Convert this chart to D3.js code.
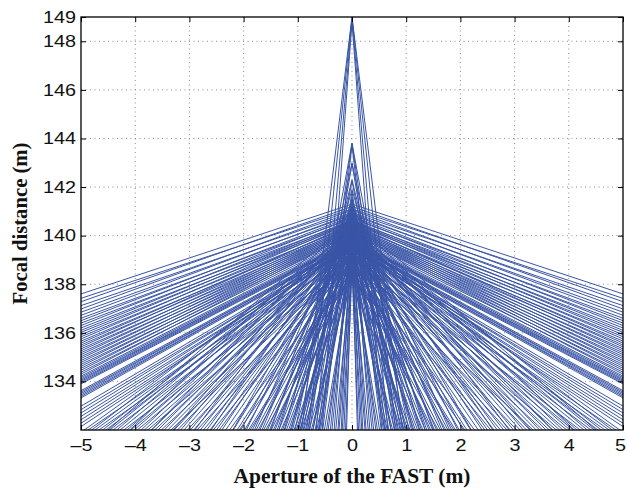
<!DOCTYPE html>
<html>
<head>
<meta charset="utf-8">
<script src="https://cdn.jsdelivr.net/npm/d3@7"></script>
<style>
  body { margin: 0; background: #fff; }
  svg { display: block; }
</style>
</head>
<body>
<svg id="chart" width="627" height="489"></svg>
<script>
// Axis ranges and tick labels
const xDomain = [-5, 5];
const yDomain = [132, 149];
const xTicks = [-5, -4, -3, -2, -1, 0, 1, 2, 3, 4, 5];
const yTicks = [134, 136, 138, 140, 142, 144, 146, 148, 149];

// Each reflected ray crosses the axis (aperture 0) at rayApex (m)
// and falls away on both sides with raySlope (m of height per m of aperture).
const rayApex = [
  // shallow rays reaching the plot edge
  141.30, 141.10, 141.20, 140.95, 141.05, 140.85, 140.90, 140.70, 140.80, 140.60,
  140.75, 140.55, 140.65, 140.50, 140.60, 140.40, 140.55, 140.35, 140.45, 140.30,
  140.50, 140.25, 140.40, 140.20, 140.35, 140.15, 140.30, 140.10, 140.25, 140.05,
  140.20, 140.00, 140.15, 139.95, 140.10, 139.90, 139.85, 139.80, 139.82, 139.78,
  139.75, 139.72, 139.70, 139.66, 139.68, 139.62, 139.64, 139.60, 139.58, 139.55,
  139.60, 139.52, 139.56, 139.50, 139.54,
  // rays reaching the floor of the plot
  139.90, 139.45, 140.20, 139.70, 139.30, 140.05, 139.60, 139.95, 139.40, 140.30,
  139.75, 139.20, 140.10, 139.55, 139.85, 139.35, 140.25, 139.65, 139.10, 140.00,
  139.50, 139.90, 139.25, 140.15, 139.70, 139.05, 139.95, 139.45, 140.35, 139.80,
  139.15, 140.05, 139.55, 139.00, 139.85, 139.35, 140.20, 139.65, 138.95, 139.90,
  139.40, 140.10,
  139.60, 138.90, 139.85, 139.30, 140.25, 139.70, 138.80, 139.95, 139.45, 140.40,
  139.20, 139.75, 138.75, 140.05, 139.50, 140.50, 139.10, 139.80, 138.70, 140.20,
  139.40, 140.60, 138.70, 139.90, 139.20, 140.30, 138.75, 139.60, 140.00, 139.00,
  140.70, 138.60, 141.00, 139.05, 140.80, 138.55, 140.35, 139.25, 140.90, 138.65,
  140.15, 139.35, 141.10, 138.85, 140.45, 139.05, 141.20, 138.60, 140.75, 139.50,
  141.60, 138.90, 140.40, 141.30, 139.80, 140.70, 140.55, 138.70, 140.45, 140.60,
  140.50, 140.55, 140.65, 140.70,
  138.60, 138.90, 139.30, 138.80, 139.60,
  // steep paraxial rays
  149.00, 149.00, 148.90, 148.80, 143.80, 143.80, 143.70, 143.00, 142.95, 142.30,
  142.25, 141.90, 141.80, 141.50, 141.40, 141.20, 141.00
];
const raySlope = [
  0.740, 0.736, 0.784, 0.766, 0.814, 0.800, 0.836, 0.820, 0.860, 0.840,
  0.890, 0.870, 0.910, 0.896, 0.936, 0.912, 0.960, 0.938, 0.974, 0.960,
  1.016, 0.982, 1.028, 1.004, 1.050, 1.026, 1.072, 1.048, 1.094, 1.070,
  1.116, 1.092, 1.138, 1.114, 1.160, 1.136, 1.138, 1.140, 1.154, 1.156,
  1.160, 1.164, 1.216, 1.220, 1.236, 1.236, 1.252, 1.256, 1.320, 1.342,
  1.380, 1.392, 1.428, 1.444, 1.480,
  1.599, 1.530, 1.708, 1.624, 1.563, 1.750, 1.674, 1.779, 1.678, 1.912,
  1.811, 1.710, 1.952, 1.850, 1.953, 1.856, 2.121, 1.997, 1.883, 2.162,
  2.060, 2.207, 2.060, 2.355, 2.265, 2.111, 2.424, 2.314, 2.642, 2.516,
  2.352, 2.701, 2.586, 2.448, 2.804, 2.682, 3.060, 2.920, 2.715, 3.160,
  3.020, 3.375,
  3.262, 3.053, 3.584, 3.443, 4.024, 3.889, 3.560, 4.321, 4.209, 4.941,
  4.417, 4.968, 4.530, 5.669, 5.556, 6.641, 5.868, 6.842, 6.262, 8.200,
  7.957, 10.000, 8.481, 10.972, 11.077, 14.310, 13.235, 17.273, 21.622, 23.333,
  4.462, 3.511, 5.000, 4.075, 5.301, 4.119, 5.493, 5.000, 6.449, 5.076,
  6.573, 6.282, 8.273, 6.650, 8.802, 7.921, 11.220, 8.800, 12.868, 12.295,
  17.778, 14.681, 21.000, 28.182, 30.000, 43.500, 3.886, 3.221, 3.250, 2.966,
  2.576, 2.311, 2.110, 1.933,
  55.000, 38.333, 48.667, 28.333, 76.000,
  18.280, 21.250, 25.606, 30.545, 12.041, 15.128, 18.871, 10.476, 13.036, 9.196,
  11.389, 7.920, 13.611, 7.037, 9.895, 6.133, 15.000
];

const W = 627, H = 489;
const margin = { top: 17, right: 4, bottom: 59, left: 81 };
const iw = W - margin.left - margin.right;
const ih = H - margin.top - margin.bottom;

const svg = d3.select("#chart");
const g = svg.append("g").attr("transform", `translate(${margin.left},${margin.top})`);

const x = d3.scaleLinear().domain(xDomain).range([0, iw]);
const y = d3.scaleLinear().domain(yDomain).range([ih, 0]);

svg.append("defs").append("clipPath").attr("id", "plot-clip")
  .append("rect").attr("width", iw).attr("height", ih);

// dotted grid
const grid = g.append("g").attr("class", "grid");
grid.selectAll("line.gx").data(xTicks.filter(d => d > xDomain[0] && d < xDomain[1]))
  .join("line").attr("class", "gx")
  .attr("x1", d => x(d)).attr("x2", d => x(d)).attr("y1", 0).attr("y2", ih);
grid.selectAll("line.gy").data(yTicks.filter(d => d > yDomain[0] && d < yDomain[1]))
  .join("line").attr("class", "gy")
  .attr("x1", 0).attr("x2", iw).attr("y1", d => y(d)).attr("y2", d => y(d));
grid.selectAll("line")
  .attr("stroke", "#8c8c8c").attr("stroke-width", 1).attr("stroke-dasharray", "1,3.5");

// rays: each drawn from the plot edge to its axis crossing and back out
const rays = rayApex.map((a, i) => [
  [xDomain[0], a + xDomain[0] * raySlope[i]],
  [0, a],
  [xDomain[1], a - xDomain[1] * raySlope[i]]
]);
const line = d3.line().x(d => x(d[0])).y(d => y(d[1]));
g.append("g").attr("clip-path", "url(#plot-clip)")
  .selectAll("path").data(rays).join("path")
  .attr("d", line)
  .attr("fill", "none")
  .attr("stroke", "#3a55a6")
  .attr("stroke-width", 1);

// axes with inward ticks on all four sides
const tickLen = 5;
const tickFont = 16.5, tickStretch = 1.2;
const fontTick = "'Liberation Sans', Arial, Helvetica, sans-serif";
const axB = d3.axisBottom(x).tickValues(xTicks).tickSizeInner(-tickLen).tickSizeOuter(0).tickPadding(9)
  .tickFormat(d => d < 0 ? "\u2013" + Math.abs(d) : String(d));
const axT = d3.axisTop(x).tickValues(xTicks).tickSizeInner(-tickLen).tickSizeOuter(0).tickFormat("");
const axL = d3.axisLeft(y).tickValues(yTicks).tickSizeInner(-tickLen).tickSizeOuter(0).tickPadding(5);
const axR = d3.axisRight(y).tickValues(yTicks).tickSizeInner(-tickLen).tickSizeOuter(0).tickFormat("");

function styleAxis(sel) {
  sel.select(".domain").remove();
  sel.selectAll(".tick line").attr("stroke", "#000").attr("stroke-width", 1);
  sel.selectAll(".tick text").attr("fill", "#111")
    .style("font-family", fontTick).style("font-size", tickFont + "px")
    .attr("x", function () { return (+d3.select(this).attr("x") || 0) / tickStretch; })
    .attr("transform", `scale(${tickStretch},1)`);
}
const bottomAxis = g.append("g").attr("transform", `translate(0,${ih})`).call(axB).call(styleAxis);
// keep the last label inside the canvas edge
bottomAxis.selectAll(".tick text").filter(d => d === xDomain[1]).attr("x", -3 / tickStretch);
g.append("g").call(axT).call(styleAxis);
g.append("g").call(axL).call(styleAxis);
g.append("g").attr("transform", `translate(${iw},0)`).call(axR).call(styleAxis);

// frame
g.append("rect").attr("width", iw).attr("height", ih)
  .attr("fill", "none").attr("stroke", "#000").attr("stroke-width", 1.3);

// axis titles
const fontTitle = "'Liberation Serif', 'Times New Roman', Times, serif";
svg.append("text")
  .attr("x", margin.left + iw / 2).attr("y", 483)
  .attr("text-anchor", "middle")
  .attr("textLength", 237).attr("lengthAdjust", "spacingAndGlyphs")
  .style("font-family", fontTitle).style("font-weight", "bold").style("font-size", "20px")
  .attr("fill", "#111")
  .text("Aperture of the FAST (m)");
svg.append("text")
  .attr("transform", `translate(27,${margin.top + ih / 2}) rotate(-90)`)
  .attr("text-anchor", "middle")
  .attr("textLength", 162).attr("lengthAdjust", "spacingAndGlyphs")
  .style("font-family", fontTitle).style("font-weight", "bold").style("font-size", "20px")
  .attr("fill", "#111")
  .text("Focal distance (m)");
</script>
</body>
</html>
